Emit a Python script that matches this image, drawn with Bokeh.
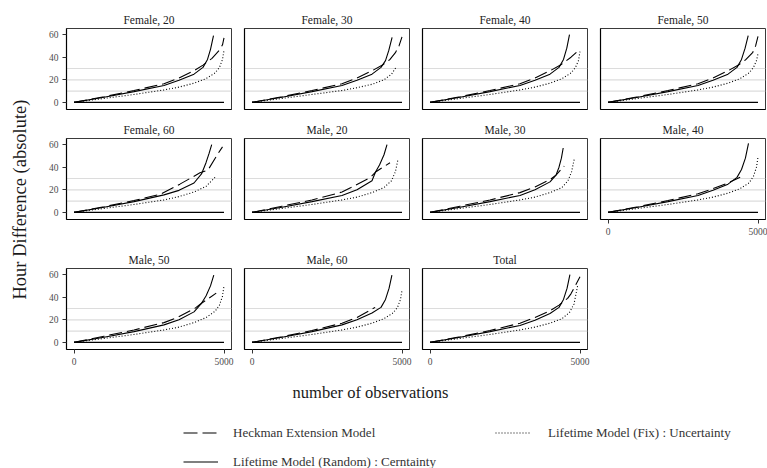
import math
from bokeh.plotting import figure
from bokeh.layouts import row, column
from bokeh.models import Span, Legend, LegendItem, LinearAxis, FixedTicker, Range1d
from bokeh.embed import file_html
from bokeh.resources import INLINE
from bokeh.core.properties import value

# ---------------- data ----------------
panels = ["Female, 20", "Female, 30", "Female, 40", "Female, 50",
          "Female, 60", "Male, 20", "Male, 30", "Male, 40",
          "Male, 50", "Male, 60", "Total"]

# Lifetime Model (Random) : Cerntainty  (solid)
random_x = [
    [0, 1000, 2000, 3000, 3500, 4000, 4300, 4450, 4550, 4650],
    [0, 1000, 2000, 3000, 3500, 4000, 4300, 4450, 4560, 4670],
    [0, 1000, 2000, 3000, 3500, 4000, 4300, 4450, 4560, 4650],
    [0, 1000, 2000, 3000, 3500, 4000, 4300, 4450, 4570, 4673],
    [0, 1000, 2000, 3000, 3500, 4000, 4250, 4400, 4500, 4590],
    [0, 1000, 2000, 3000, 3500, 4000, 4117, 4250, 4400, 4500],
    [0, 1000, 2000, 3000, 3500, 4000, 4200, 4300, 4380, 4440],
    [0, 1000, 2000, 3000, 3500, 4000, 4300, 4450, 4580, 4683],
    [0, 1000, 2000, 3000, 3500, 4000, 4250, 4400, 4550, 4660],
    [0, 1000, 2000, 3000, 3500, 4000, 4300, 4450, 4570, 4664],
    [0, 1000, 2000, 3000, 3500, 4000, 4300, 4450, 4570, 4664],
]
random_y = [
    [0, 4.5, 9.5, 15, 19.5, 25, 31, 38, 47, 59],
    [0, 4.5, 9.5, 15, 19.5, 25, 31, 37, 46, 57.5],
    [0, 4.5, 9.5, 15, 19.5, 25, 31, 38, 48, 60],
    [0, 4.5, 9.5, 15, 19.5, 25, 31, 38, 48, 59],
    [0, 4.5, 9.5, 15.5, 19.5, 26, 34, 44, 52, 60],
    [0, 4.5, 9.5, 15, 20, 28, 35.7, 42, 51, 60],
    [0, 4.5, 9.5, 15, 20, 27, 33, 40, 48, 57],
    [0, 4.5, 9.5, 15, 19.5, 25, 31, 38, 48, 61],
    [0, 4.5, 9.5, 15.5, 20, 27, 34.6, 41, 50, 59.5],
    [0, 4.5, 9.5, 15.5, 20, 26, 31, 38, 48, 59.5],
    [0, 4.5, 9.5, 15, 19.5, 25.5, 31, 38, 48, 60],
]

# Heckman Extension Model (long dash)
heckman_x = [
    [0, 1000, 2000, 3000, 3500, 4000, 4300, 4600, 4870, 4950, 5000],
    [0, 1000, 2000, 3000, 3500, 4000, 4350, 4600, 4780, 4900, 5000],
    [0, 1000, 2000, 3000, 3500, 4000, 4350, 4700, 4950],
    [0, 1000, 2000, 3000, 3500, 4000, 4350, 4600, 4820, 4920, 5000],
    [0, 1000, 2000, 2870, 3530, 4200, 4470, 4800, 4950],
    [0, 1000, 2000, 3000, 3300, 3950, 4120, 4600],
    [0, 1000, 2000, 3000, 3500, 4000, 4200, 4473],
    [0, 1000, 2000, 3000, 3500, 4000, 4405],
    [0, 1000, 2000, 3000, 3446, 4050, 4250, 4740],
    [0, 1000, 2000, 3000, 3500, 4104],
    [0, 1000, 2000, 3000, 3500, 4000, 4300, 4587, 4698, 5000],
]
heckman_y = [
    [0, 5, 10.5, 16.5, 21.5, 28, 33, 39, 47, 51, 57],
    [0, 5, 10.5, 16.5, 21.5, 28, 33, 38, 44, 50, 58],
    [0, 5, 10.5, 16.5, 21.5, 28, 33, 40, 46],
    [0, 5, 10.5, 16.5, 21.5, 28, 33, 38, 44, 50, 58.5],
    [0, 5, 10.5, 16, 25, 35, 37.6, 52, 58],
    [0, 5.5, 11, 18, 22, 31, 35.7, 44],
    [0, 5.5, 11, 17.5, 22.5, 29, 33, 41],
    [0, 5, 10.5, 16.5, 21, 26, 31],
    [0, 5.5, 11, 17.5, 22, 30.5, 34.6, 43.6],
    [0, 5, 10.5, 17, 22, 31],
    [0, 5, 10.5, 17, 22, 28, 33, 39, 43, 58],
]

# Lifetime Model (Fix) : Uncertainty (dotted)
fix_x = [
    [0, 1000, 2000, 3000, 3500, 4000, 4400, 4700, 4850, 4950, 5000],
    [0, 1000, 2000, 3000, 3500, 4000, 4400, 4650, 4800],
    [0, 1000, 2000, 3000, 3500, 4000, 4400, 4700, 4850, 4950, 5000],
    [0, 1000, 2000, 3000, 3500, 4000, 4400, 4700, 4850, 4950, 5000],
    [0, 1000, 2000, 3000, 3500, 4000, 4400, 4700],
    [0, 1000, 2000, 3000, 3500, 4000, 4400, 4650, 4780, 4860],
    [0, 1000, 2000, 3000, 3500, 4000, 4400, 4600, 4720, 4807],
    [0, 1000, 2000, 3000, 3500, 4000, 4400, 4700, 4850, 4950, 5000],
    [0, 1000, 2000, 3000, 3500, 4000, 4400, 4700, 4850, 4950, 5000],
    [0, 1000, 2000, 3000, 3500, 4000, 4400, 4700, 4850, 4950, 5000],
    [0, 1000, 2000, 3000, 3500, 4000, 4400, 4650, 4800, 4920],
]
fix_y = [
    [0, 3.5, 7, 11, 13.5, 17, 21, 26, 31, 38, 46],
    [0, 3.5, 7, 10.5, 13, 16, 20, 25, 31],
    [0, 3.5, 7, 11, 13.5, 17, 21, 26, 31, 37, 45],
    [0, 3.5, 7, 11, 13.5, 17, 21, 26, 31, 37, 43],
    [0, 3.5, 7, 11, 14, 18, 23, 31],
    [0, 3.5, 7, 11, 13.5, 17.5, 22, 28, 36, 46],
    [0, 3.5, 7, 11, 13.5, 17.5, 22, 28, 36, 47],
    [0, 3.5, 7, 11, 13.5, 17, 21, 26, 32, 40, 49],
    [0, 3.5, 7, 11, 13.5, 17.5, 22, 27.5, 33, 41, 50],
    [0, 3.5, 7, 11, 13.5, 17, 21, 26, 31, 38, 46],
    [0, 3.5, 7, 11, 13.5, 17, 21, 26.5, 34, 50],
]

zero_x = [0, 5000]
zero_y = [0, 0]

ref_levels = [10, 20, 30]
y_ticks = [0, 20, 40, 60]
x_ticks = [0, 5000]

legend_labels = ["Heckman Extension Model",
                 "Lifetime Model (Random) : Cerntainty",
                 "Lifetime Model (Fix) : Uncertainty"]
# legend sample lines live far outside the visible range
proxy_x = [-100, -99]
proxy_y = [-100, -100]

# ---------------- style ----------------
FONT = "Liberation Serif"
FRAME_W = 165
FRAME_H = 81
DASH = "13 5"
DOT = "1 2"
LW = 1.1

col_borders = [(30, 6), (7, 6), (7, 6), (7, 2)]
row_borders = [(28, 8), (21, 26), (23, 22)]


def make_panel(i, c, r, show_y, show_x):
    bl, br = col_borders[c]
    bt, bb = row_borders[r]
    p = figure(width=bl + FRAME_W + br, height=bt + FRAME_H + bb,
               x_range=Range1d(-250, 5250), y_range=Range1d(-6.3, 65.4),
               output_backend="svg", toolbar_location=None,
               x_axis_location=None, y_axis_location=None,
               min_border_left=bl, min_border_right=br,
               min_border_top=bt, min_border_bottom=bb,
               title=panels[i])
    p.grid.visible = False
    p.title.align = "center"
    p.title.text_font = FONT
    p.title.text_font_size = "11.5px"
    p.title.text_font_style = "normal"
    p.title.text_color = "#222222"
    p.title.standoff = 6
    p.outline_line_color = "#3a3a3a"
    p.outline_line_width = 1
    p.background_fill_color = "white"
    p.border_fill_color = "white"

    for lvl in ref_levels:
        p.add_layout(Span(location=lvl, dimension="width",
                          line_color="#dcdcdc", line_width=1.2, level="underlay"))

    p.line(zero_x, zero_y, line_color="black", line_width=1.3)
    p.line(fix_x[i], fix_y[i], line_color="black", line_width=LW, line_dash=DOT)
    p.line(random_x[i], random_y[i], line_color="black", line_width=LW)
    p.line(heckman_x[i], heckman_y[i], line_color="black", line_width=LW, line_dash=DASH)

    for side, ticks, show in (("left", y_ticks, show_y), ("below", x_ticks, show_x)):
        ax = LinearAxis(ticker=FixedTicker(ticks=ticks if show else []))
        ax.axis_line_color = "black"
        ax.axis_line_width = 1.2
        ax.minor_tick_out = 0
        ax.minor_tick_in = 0
        ax.major_tick_in = 0
        if show:
            ax.major_tick_out = 4
            ax.major_tick_line_color = "#333333"
            ax.major_label_standoff = 4
            ax.major_label_text_font = FONT
            ax.major_label_text_font_size = "9.5px"
            ax.major_label_text_color = "#4d4d4d"
        else:
            ax.major_tick_out = 0
            ax.major_label_standoff = 0
        p.add_layout(ax, side)
    return p


rows = []
idx = 0
for r in range(3):
    figs = []
    for c in range(4):
        if idx >= len(panels):
            break
        show_x = (r == 2) or (r == 1 and c == 3)
        figs.append(make_panel(idx, c, r, c == 0, show_x))
        idx += 1
    rows.append(row(*figs))
grid = column(*rows)

GRID_H = sum(t + FRAME_H + b for t, b in row_borders)  # 371

# y axis title
yf = figure(width=36, height=GRID_H, x_range=Range1d(0, 36), y_range=Range1d(0, GRID_H),
            output_backend="svg", toolbar_location=None, min_border=0,
            x_axis_location=None, y_axis_location=None, outline_line_color=None)
yf.grid.visible = False
yf.text(x=[19], y=[GRID_H - 199], text=["Hour Difference (absolute)"], angle=math.pi / 2,
        text_font=value(FONT), text_font_size="18.5px", text_align="center",
        text_baseline="middle", text_color="#1a1a1a")

# bottom: x title + legend
BH = 468 - GRID_H
bf = figure(width=767, height=BH, x_range=Range1d(0, 767), y_range=Range1d(0, BH),
            output_backend="svg", toolbar_location=None, min_border=0,
            x_axis_location=None, y_axis_location=None, outline_line_color=None)
bf.grid.visible = False
bf.text(x=[370], y=[BH - 21], text=["number of observations"],
        text_font=value(FONT), text_font_size="16.5px", text_align="center",
        text_baseline="middle", text_color="#1a1a1a")
r_h = bf.line(proxy_x, proxy_y, line_color="black", line_width=LW, line_dash="14 5")
r_r = bf.line(proxy_x, proxy_y, line_color="black", line_width=LW)
r_f = bf.line(proxy_x, proxy_y, line_color="black", line_width=LW, line_dash="1 2")


def style_legend(lg, standoff):
    lg.glyph_width = 35
    lg.glyph_height = 17
    lg.label_height = 17
    lg.label_standoff = standoff
    lg.spacing = 12
    lg.padding = 0
    lg.margin = 0
    lg.border_line_color = None
    lg.background_fill_alpha = 0
    lg.label_text_font = FONT
    lg.label_text_font_size = "13px"
    lg.label_text_color = "#333333"


leg1 = Legend(items=[LegendItem(label=legend_labels[0], renderers=[r_h]),
                     LegendItem(label=legend_labels[1], renderers=[r_r])],
              location=(183, -2))
leg2 = Legend(items=[LegendItem(label=legend_labels[2], renderers=[r_f])],
              location=(495, 27))
style_legend(leg1, 15)
style_legend(leg2, 18)
bf.add_layout(leg1)
bf.add_layout(leg2)

layout = column(row(yf, grid), bf)

open("out.html", "w").write(file_html(layout, INLINE))
